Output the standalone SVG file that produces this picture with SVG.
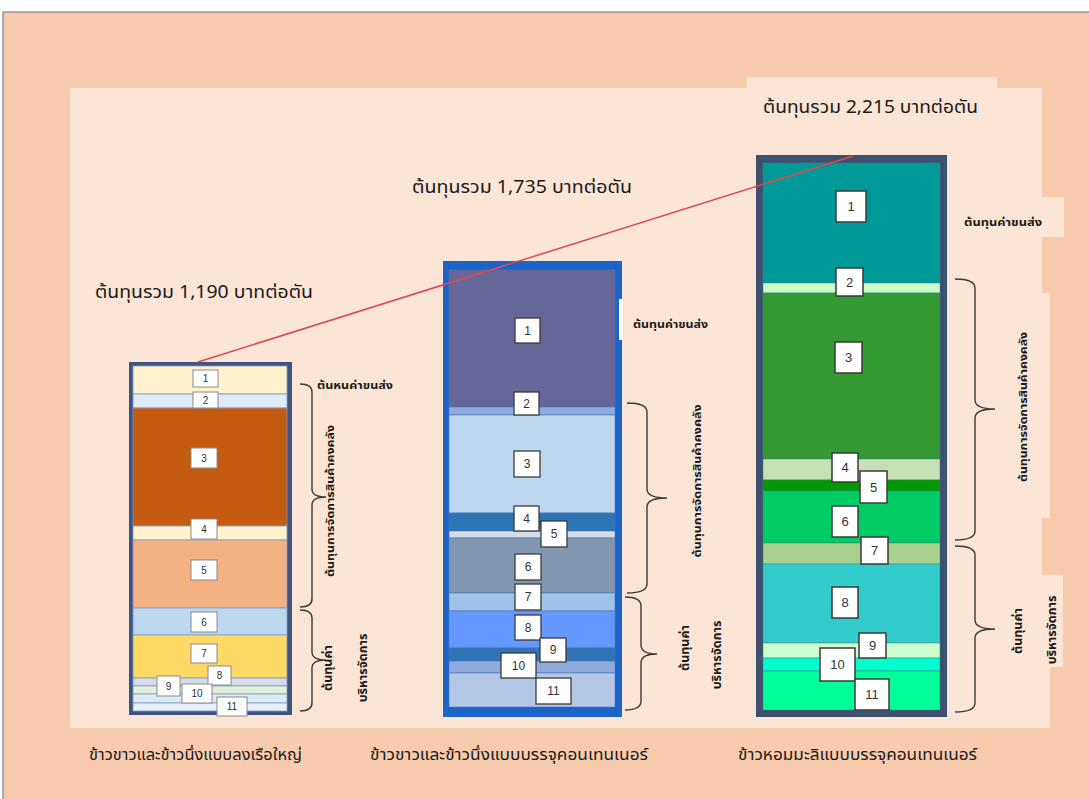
<svg xmlns="http://www.w3.org/2000/svg" width="1089" height="799" viewBox="0 0 1089 799">
<style>
.th{font-family:'Noto Sans Thai','Tahoma','DejaVu Sans',sans-serif;fill:#1a1a1a}
.ttl{font-size:18px}
.lbl{font-size:11px;font-weight:bold}
.sh{font-size:12.5px}
.cap{font-size:15px}
.num{font-family:'Liberation Sans',Arial,sans-serif;text-anchor:middle;fill:#333}
.bl{fill:#fff;stroke:#8a8a8a;stroke-width:1}
.bm{fill:#fff;stroke:#3a3a3a;stroke-width:1.3}
.br{fill:#fff;stroke:#3a3a3a;stroke-width:1.5}
.brace{fill:none;stroke:#3b3b3b;stroke-width:1.4}
.sl{stroke:#7f9cc7;stroke-width:0.8}
.sm{stroke:#4a74b8;stroke-width:0.6}
.sr{stroke:#3f7f7f;stroke-width:0.5}
.pan{fill:#FBE5D6}
</style>
<rect x="0" y="0" width="1089" height="799" fill="#ffffff"/>
<rect x="3" y="12" width="1100" height="800" fill="#F8CBAD" stroke="#7F7F9F" stroke-width="1.2"/>
<g id="panel">
<rect class="pan" x="70" y="88" width="972" height="640"/>
<rect class="pan" x="747" y="77" width="250" height="12"/>
<rect class="pan" x="1040" y="293" width="10" height="225"/>
<rect class="pan" x="1040" y="197" width="24" height="40"/>
<rect class="pan" x="1040" y="575" width="23" height="92"/>
<rect class="pan" x="1040" y="667" width="10" height="61"/>
</g>
<g id="bar-left">
<rect x="129" y="362" width="163" height="353" fill="#3F5580"/>
<g class="sl">
<rect x="133" y="366" width="154" height="28" fill="#FFF2CC"/>
<rect x="133" y="394" width="154" height="14" fill="#DEEBF7"/>
<rect x="133" y="408" width="154" height="118" fill="#C55A11"/>
<rect x="133" y="526" width="154" height="14" fill="#FFF2CC"/>
<rect x="133" y="540" width="154" height="68" fill="#F4B183"/>
<rect x="133" y="608" width="154" height="27" fill="#BDD7EE"/>
<rect x="133" y="635" width="154" height="43" fill="#FFD966"/>
<rect x="133" y="678" width="154" height="8" fill="#D6DCE5"/>
<rect x="133" y="686" width="154" height="8" fill="#E2F0D9"/>
<rect x="133" y="694" width="154" height="9" fill="#DEEBF7"/>
<rect x="133" y="703" width="154" height="8" fill="#EAF1FB"/>
</g>
<g font-size="10" class="num">
<rect class="bl" x="193" y="370" width="25" height="17"/><text class="num" x="205.5" y="382">1</text>
<rect class="bl" x="193" y="392" width="25" height="16"/><text class="num" x="205.5" y="404">2</text>
<rect class="bl" x="191" y="448" width="26" height="20"/><text class="num" x="204" y="462">3</text>
<rect class="bl" x="191" y="519" width="26" height="20"/><text class="num" x="204" y="533">4</text>
<rect class="bl" x="191" y="560" width="26" height="20"/><text class="num" x="204" y="574">5</text>
<rect class="bl" x="191" y="612" width="26" height="20"/><text class="num" x="204" y="626">6</text>
<rect class="bl" x="191" y="644" width="26" height="19"/><text class="num" x="204" y="657">7</text>
<rect class="bl" x="208" y="666" width="23" height="19"/><text class="num" x="219.5" y="679">8</text>
<rect class="bl" x="157" y="676" width="23" height="20"/><text class="num" x="168.5" y="690">9</text>
<rect class="bl" x="182" y="684" width="30" height="19"/><text class="num" x="197" y="697">10</text>
<rect class="bl" x="217" y="697" width="30" height="19"/><text class="num" x="232" y="710">11</text>
</g>
</g>
<g id="bar-middle">
<rect x="443" y="261" width="179" height="456" fill="#1D64C8"/>
<rect x="619" y="299" width="4" height="41" fill="#ffffff"/>
<g class="sm">
<rect x="449" y="270" width="166" height="137" fill="#666699"/>
<rect x="449" y="407" width="166" height="8" fill="#8FAADC"/>
<rect x="449" y="415" width="166" height="98" fill="#BDD7EE"/>
<rect x="449" y="513" width="166" height="18" fill="#2E75B6"/>
<rect x="449" y="531" width="166" height="7" fill="#D6DCE5"/>
<rect x="449" y="538" width="166" height="55" fill="#8497B0"/>
<rect x="449" y="593" width="166" height="18" fill="#9DC3E6"/>
<rect x="449" y="611" width="166" height="37" fill="#6699FF"/>
<rect x="449" y="648" width="166" height="13" fill="#2E75B6"/>
<rect x="449" y="661" width="166" height="12" fill="#8FAADC"/>
<rect x="449" y="673" width="166" height="34" fill="#B4C7E7"/>
</g>
<g font-size="12" class="num">
<rect class="bm" x="515" y="318" width="25" height="25"/><text class="num" x="527.5" y="335">1</text>
<rect class="bm" x="514" y="392" width="25" height="23"/><text class="num" x="526.5" y="408">2</text>
<rect class="bm" x="514" y="451" width="26" height="26"/><text class="num" x="527" y="468">3</text>
<rect class="bm" x="514" y="506" width="25" height="25"/><text class="num" x="526.5" y="523">4</text>
<rect class="bm" x="541" y="521" width="26" height="26"/><text class="num" x="554" y="538">5</text>
<rect class="bm" x="515" y="554" width="26" height="26"/><text class="num" x="528" y="571">6</text>
<rect class="bm" x="515" y="584" width="26" height="26"/><text class="num" x="528" y="601">7</text>
<rect class="bm" x="515" y="615" width="26" height="25"/><text class="num" x="528" y="632">8</text>
<rect class="bm" x="540" y="638" width="26" height="24"/><text class="num" x="553" y="654">9</text>
<rect class="bm" x="501" y="653" width="35" height="25"/><text class="num" x="518.5" y="670">10</text>
<rect class="bm" x="536" y="678" width="35" height="26"/><text class="num" x="553.5" y="695">11</text>
</g>
</g>
<g id="bar-right">
<rect x="756" y="155" width="191" height="562" fill="#3E5070"/>
<g class="sr">
<rect x="763" y="163" width="177" height="120" fill="#009999"/>
<rect x="763" y="283" width="177" height="10" fill="#CCFFCC"/>
<rect x="763" y="293" width="177" height="166" fill="#339933"/>
<rect x="763" y="459" width="177" height="21" fill="#C5E0B4"/>
<rect x="763" y="480" width="177" height="11" fill="#009900"/>
<rect x="763" y="491" width="177" height="52" fill="#00CC66"/>
<rect x="763" y="543" width="177" height="21" fill="#A9D18E"/>
<rect x="763" y="564" width="177" height="79" fill="#33CCCC"/>
<rect x="763" y="643" width="177" height="15" fill="#CCFFCC"/>
<rect x="763" y="658" width="177" height="13" fill="#00FFCC"/>
<rect x="763" y="671" width="177" height="39" fill="#00FF99"/>
</g>
<g font-size="13" class="num">
<rect class="br" x="836" y="191" width="30" height="31"/><text class="num" x="851" y="211">1</text>
<rect class="br" x="836" y="268" width="27" height="28"/><text class="num" x="849.5" y="287">2</text>
<rect class="br" x="835" y="342" width="27" height="31"/><text class="num" x="848.5" y="362">3</text>
<rect class="br" x="832" y="453" width="26" height="29"/><text class="num" x="845" y="472">4</text>
<rect class="br" x="860" y="471" width="27" height="32"/><text class="num" x="873.5" y="492">5</text>
<rect class="br" x="832" y="506" width="26" height="31"/><text class="num" x="845" y="526">6</text>
<rect class="br" x="861" y="537" width="27" height="27"/><text class="num" x="874.5" y="555">7</text>
<rect class="br" x="832" y="587" width="26" height="31"/><text class="num" x="845" y="607">8</text>
<rect class="br" x="859" y="633" width="27" height="25"/><text class="num" x="872.5" y="650">9</text>
<rect class="br" x="820" y="648" width="35" height="33"/><text class="num" x="837.5" y="669">10</text>
<rect class="br" x="855" y="679" width="34" height="31"/><text class="num" x="872" y="699">11</text>
</g>
</g>
<g id="connectors">
<line x1="198" y1="362" x2="853" y2="156" stroke="#E0474C" stroke-width="1.5"/>
</g>
<g id="braces">
<path class="brace" d="M300,384 Q312,384 312,392 L312,489 Q312,497 326,497 Q312,497 312,505 L312,599 Q312,607 300,607"/>
<path class="brace" d="M300,610 Q312,610 312,618 L312,652 Q312,660 326,660 Q312,660 312,668 L312,703 Q312,711 300,711"/>
<path class="brace" d="M627,403 Q647,403 647,412 L647,489 Q647,498 667,498 Q647,498 647,507 L647,584 Q647,593 627,593"/>
<path class="brace" d="M625,597 Q641,597 641,606 L641,645 Q641,654 657,654 Q641,654 641,663 L641,701 Q641,710 625,710"/>
<path class="brace" d="M955,279 Q975,279 975,288 L975,400 Q975,409 995,409 Q975,409 975,418 L975,531 Q975,540 955,540"/>
<path class="brace" d="M955,546 Q975,546 975,555 L975,620 Q975,629 995,629 Q975,629 975,638 L975,703 Q975,712 955,712"/>
</g>
<g id="titles" class="th ttl">
<text x="763" y="113" textLength="215" lengthAdjust="spacingAndGlyphs">ต้นทุนรวม 2,215 บาทต่อตัน</text>
<text x="412" y="193" textLength="220" lengthAdjust="spacingAndGlyphs">ต้นทุนรวม 1,735 บาทต่อตัน</text>
<text x="95" y="298" textLength="218" lengthAdjust="spacingAndGlyphs">ต้นทุนรวม 1,190 บาทต่อตัน</text>
</g>
<g id="labels" class="th lbl">
<text x="317" y="389" textLength="76" lengthAdjust="spacingAndGlyphs">ต้นหนค่าขนส่ง</text>
<text x="633" y="328" textLength="75" lengthAdjust="spacingAndGlyphs">ต้นทุนค่าขนส่ง</text>
<text x="964" y="226" textLength="78" lengthAdjust="spacingAndGlyphs">ต้นทุนค่าขนส่ง</text>
<text transform="translate(334,501) rotate(-90)" text-anchor="middle" textLength="152" lengthAdjust="spacingAndGlyphs">ต้นทุนการจัดการสินค้าคงคลัง</text>
<text transform="translate(701,481) rotate(-90)" text-anchor="middle" textLength="153" lengthAdjust="spacingAndGlyphs">ต้นทุนการจัดการสินค้าคงคลัง</text>
<text transform="translate(1027,407) rotate(-90)" text-anchor="middle" textLength="150" lengthAdjust="spacingAndGlyphs">ต้นทุนการจัดการสินค้าคงคลัง</text>
<g class="sh">
<text transform="translate(332,668) rotate(-90)" text-anchor="middle">ต้นทุนค่า</text>
<text transform="translate(367,668) rotate(-90)" text-anchor="middle">บริหารจัดการ</text>
<text transform="translate(689,648) rotate(-90)" text-anchor="middle">ต้นทุนค่า</text>
<text transform="translate(721,655) rotate(-90)" text-anchor="middle">บริหารจัดการ</text>
<text transform="translate(1022,631) rotate(-90)" text-anchor="middle">ต้นทุนค่า</text>
<text transform="translate(1056,630) rotate(-90)" text-anchor="middle">บริหารจัดการ</text>
</g>
</g>
<g id="captions" class="th cap">
<text x="89" y="760" textLength="213" lengthAdjust="spacingAndGlyphs">ข้าวขาวและข้าวนึ่งแบบลงเรือใหญ่</text>
<text x="370" y="760" textLength="278" lengthAdjust="spacingAndGlyphs">ข้าวขาวและข้าวนึ่งแบบบรรจุคอนเทนเนอร์</text>
<text x="738" y="760" textLength="239" lengthAdjust="spacingAndGlyphs">ข้าวหอมมะลิแบบบรรจุคอนเทนเนอร์</text>
</g>
</svg>
